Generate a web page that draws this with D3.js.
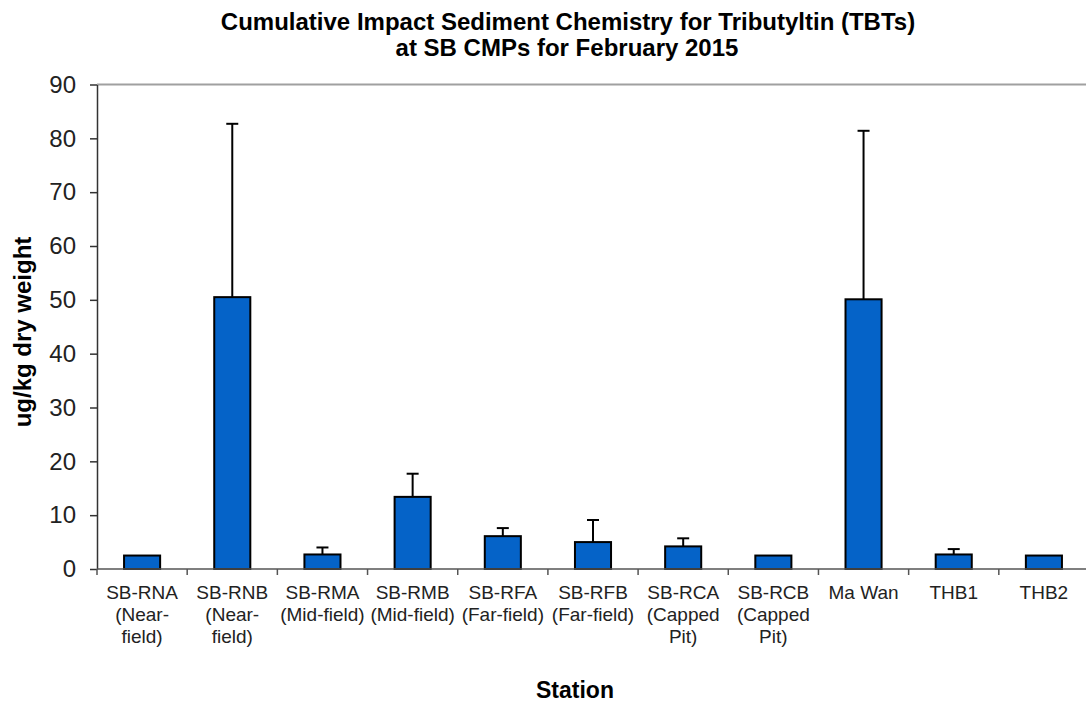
<!DOCTYPE html>
<html>
<head>
<meta charset="utf-8">
<script src="https://cdn.jsdelivr.net/npm/d3@7"></script>
<style>
  body { margin: 0; background: #fff; }
  text { font-family: "Liberation Sans", Arial, sans-serif; }
</style>
</head>
<body>
<svg id="chart" width="1086" height="702"></svg>
<script>
const stations = ['SB-RNA', 'SB-RNB', 'SB-RMA', 'SB-RMB', 'SB-RFA', 'SB-RFB', 'SB-RCA', 'SB-RCB', 'Ma Wan', 'THB1', 'THB2']
const stationNotes = ['(Near-|field)', '(Near-|field)', '(Mid-field)', '(Mid-field)', '(Far-field)', '(Far-field)', '(Capped|Pit)', '(Capped|Pit)', '', '', '']
const tbtMean = [2.5, 50.5, 2.7, 13.4, 6.1, 5.0, 4.2, 2.5, 50.1, 2.7, 2.5]
const tbtUpper = [null, 82.7, 4.0, 17.7, 7.6, 9.1, 5.7, null, 81.4, 3.7, null]
const yTicks = [0, 10, 20, 30, 40, 50, 60, 70, 80, 90]

const svg = d3.select('#chart')
const plotLeft = 97, plotRight = 1089, plotTop = 84.5, plotBottom = 569

const x = d3.scaleBand()
  .domain(stations)
  .range([plotLeft, plotRight])
  .paddingInner(0.6)
  .paddingOuter(0.3)

const y = d3.scaleLinear()
  .domain([0, 90])
  .range([plotBottom, plotTop])

// title
svg.append('text')
  .attr('x', 568).attr('y', 30)
  .attr('text-anchor', 'middle')
  .attr('font-size', 24).attr('font-weight', 'bold')
  .text('Cumulative Impact Sediment Chemistry for Tributyltin (TBTs)')
svg.append('text')
  .attr('x', 567).attr('y', 56)
  .attr('text-anchor', 'middle')
  .attr('font-size', 24).attr('font-weight', 'bold')
  .text('at SB CMPs for February 2015')

// top border of plot area
svg.append('line')
  .attr('x1', plotLeft).attr('x2', 1086)
  .attr('y1', y(90)).attr('y2', y(90))
  .attr('stroke', '#a0a0a0')
  .attr('stroke-width', 2)

// y axis
const yAxis = svg.append('g')
  .attr('transform', `translate(${plotLeft},0)`)
  .call(d3.axisLeft(y).tickValues(yTicks).tickSize(7).tickPadding(14).tickSizeOuter(0))
yAxis.select('.domain').attr('stroke', '#333').attr('stroke-width', 1.5)
yAxis.selectAll('.tick line').attr('stroke', '#333').attr('stroke-width', 1.5)
yAxis.selectAll('.tick text')
  .attr('font-size', 24)
  .attr('fill', '#222')
  .attr('font-family', '"Liberation Sans", Arial, sans-serif')

svg.append('text')
  .attr('transform', 'translate(31,332) rotate(-90)')
  .attr('text-anchor', 'middle')
  .attr('font-size', 24).attr('font-weight', 'bold')
  .text('ug/kg dry weight')

// bars
svg.append('g')
  .selectAll('rect')
  .data(stations)
  .enter()
  .append('rect')
  .attr('x', d => x(d))
  .attr('width', x.bandwidth())
  .attr('y', (d, i) => y(tbtMean[i]))
  .attr('height', (d, i) => y(0) - y(tbtMean[i]))
  .attr('fill', '#0563c8')
  .attr('stroke', '#000')
  .attr('stroke-width', 2)

// error bars (upper only)
const errs = svg.append('g')
  .selectAll('g')
  .data(stations.filter((d, i) => tbtUpper[i] != null))
  .enter()
  .append('g')
errs.append('line')
  .attr('x1', d => x(d) + x.bandwidth() / 2)
  .attr('x2', d => x(d) + x.bandwidth() / 2)
  .attr('y1', d => y(tbtMean[stations.indexOf(d)]))
  .attr('y2', d => y(tbtUpper[stations.indexOf(d)]))
  .attr('stroke', '#000').attr('stroke-width', 2)
errs.append('line')
  .attr('x1', d => x(d) + x.bandwidth() / 2 - 6)
  .attr('x2', d => x(d) + x.bandwidth() / 2 + 6)
  .attr('y1', d => y(tbtUpper[stations.indexOf(d)]))
  .attr('y2', d => y(tbtUpper[stations.indexOf(d)]))
  .attr('stroke', '#000').attr('stroke-width', 2)

// x axis
svg.append('line')
  .attr('x1', plotLeft).attr('x2', 1086)
  .attr('y1', plotBottom).attr('y2', plotBottom)
  .attr('stroke', '#555').attr('stroke-width', 1.5)
svg.append('g')
  .selectAll('line')
  .data(d3.range(stations.length + 1))
  .enter()
  .append('line')
  .attr('x1', i => plotLeft + i * x.step())
  .attr('x2', i => plotLeft + i * x.step())
  .attr('y1', plotBottom).attr('y2', plotBottom + 6)
  .attr('stroke', '#555').attr('stroke-width', 1.5)

const labels = svg.append('g')
  .selectAll('text')
  .data(stations)
  .enter()
  .append('text')
  .attr('text-anchor', 'middle')
  .attr('font-size', 19)
  .attr('fill', '#222')
labels.each(function (d, i) {
  const lines = [d].concat(stationNotes[i] ? stationNotes[i].split('|') : [])
  const cx = x(d) + x.bandwidth() / 2
  d3.select(this).selectAll('tspan')
    .data(lines)
    .enter()
    .append('tspan')
    .attr('x', cx)
    .attr('y', (l, j) => 599 + j * 22)
    .text(l => l)
})

svg.append('text')
  .attr('x', 575).attr('y', 698)
  .attr('text-anchor', 'middle')
  .attr('font-size', 23).attr('font-weight', 'bold')
  .text('Station')
</script>
</body>
</html>
